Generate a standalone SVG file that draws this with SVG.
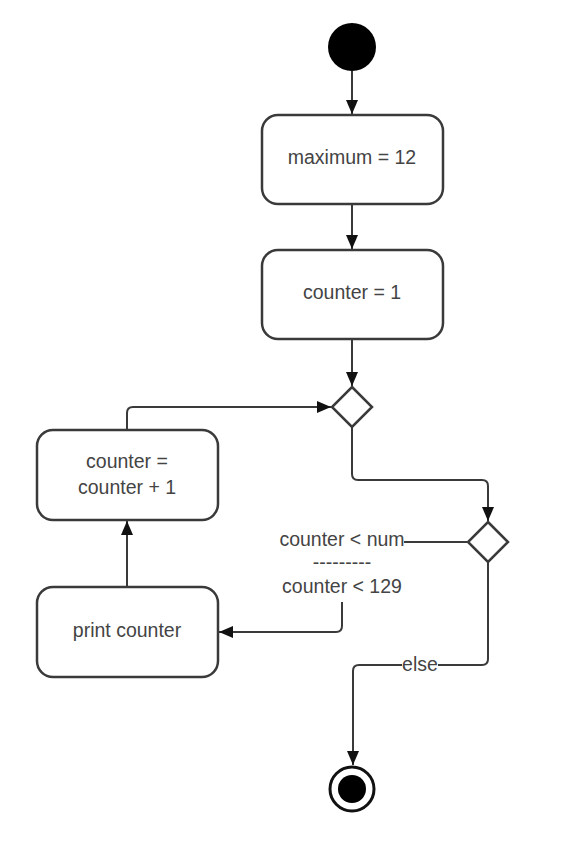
<svg xmlns="http://www.w3.org/2000/svg" width="571" height="852" viewBox="0 0 571 852">
<style>
.node{fill:#fff;stroke:#3a3a3a;stroke-width:2.5}
.edge{fill:none;stroke:#3a3a3a;stroke-width:2}
text{font-family:"Liberation Sans",Arial,sans-serif;font-size:19.5px;fill:#444;text-anchor:middle}
</style>
<defs>
<marker id="arr" viewBox="0 0 14 12" refX="14" refY="6" markerWidth="14" markerHeight="12" markerUnits="userSpaceOnUse" orient="auto">
<path d="M0,0 L14,6 L0,12 z" fill="#111"/>
</marker>
</defs>
<rect width="571" height="852" fill="#fff"/>
<g id="connectors">
<path class="edge" d="M352,71 V114" marker-end="url(#arr)"/>
<path class="edge" d="M352,204 V249" marker-end="url(#arr)"/>
<path class="edge" d="M352,339 V386" marker-end="url(#arr)"/>
<path class="edge" d="M352,427 V474 Q352,480 358,480 H482 Q488,480 488,486 V521" marker-end="url(#arr)"/>
<path class="edge" d="M467,542 H404"/>
<path class="edge" d="M342,602 V626 Q342,632 336,632 H219" marker-end="url(#arr)"/>
<path class="edge" d="M127,587 V521" marker-end="url(#arr)"/>
<path class="edge" d="M127,430 V413 Q127,407 133,407 H331" marker-end="url(#arr)"/>
<path class="edge" d="M488,562 V659 Q488,665 482,665 H359 Q353,665 353,671 V765" marker-end="url(#arr)"/>
<rect x="402" y="655" width="36" height="20" fill="#fff"/>
<text x="420" y="671">else</text>
<text x="342" y="546">counter &lt; num</text>
<text x="342" y="569">---------</text>
<text x="342" y="593">counter &lt; 129</text>
</g>
<g id="start"><circle cx="352" cy="47" r="24" fill="#000"/></g>
<g id="maximum"><rect class="node" x="262" y="115" width="181" height="89" rx="16"/><text x="352" y="164">maximum = 12</text></g>
<g id="counter1"><rect class="node" x="262" y="250" width="181" height="89" rx="16"/><text x="352" y="299">counter = 1</text></g>
<g id="merge"><path class="node" d="M352,387 L372,407 L352,427 L332,407 z"/></g>
<g id="decision"><path class="node" d="M488,522 L508,542 L488,562 L468,542 z"/></g>
<g id="increment"><rect class="node" x="37" y="430" width="181" height="90" rx="16"/><text x="127" y="468">counter =</text><text x="127" y="494">counter + 1</text></g>
<g id="print"><rect class="node" x="37" y="587" width="181" height="90" rx="16"/><text x="127" y="637">print counter</text></g>
<g id="end"><circle cx="352" cy="789" r="22" fill="#fff" stroke="#111" stroke-width="3"/><circle cx="352" cy="789" r="14" fill="#000"/></g>
</svg>
